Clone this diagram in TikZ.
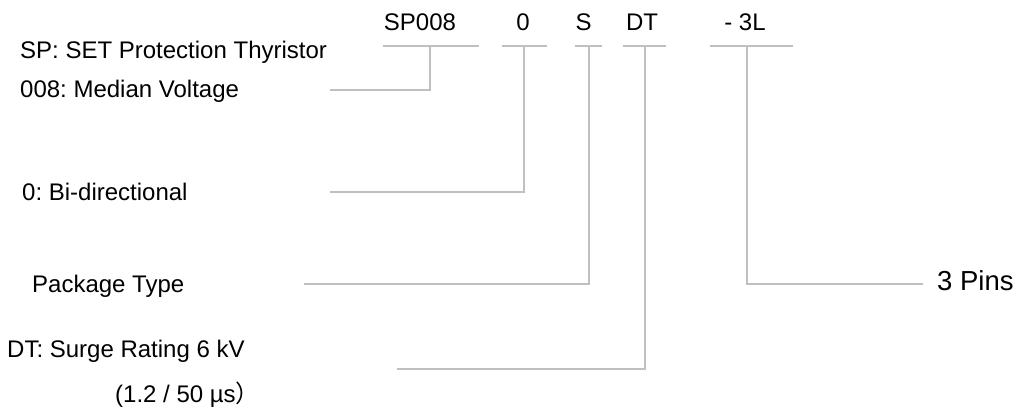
\documentclass[tikz,border=0pt]{standalone}
\usepackage{fontspec}
\setmainfont{Liberation Sans}
\newfontfamily\cjk{Noto Sans CJK SC}
\usepackage{xcolor}
\definecolor{leadgray}{RGB}{192,192,192}
\frenchspacing

\begin{document}
\begin{tikzpicture}[x=1pt,y=-1pt,
  lead/.style={draw=leadgray,line width=1.5pt},
  lbl/.style={anchor=base west,inner sep=0,font=\fontsize{24}{28}\selectfont},
  code/.style={anchor=base,inner sep=0,font=\fontsize{24}{28}\selectfont}]
\useasboundingbox (0,0) rectangle (1016,412);
% part number
\node[code] (sp) at (420,31) {SP008};
\node[code] (dir) at (523,31) {0};
\node[code] (pkg) at (583.5,31) {S};
\node[code] (surge) at (642,31) {DT};
\node[code] (pins) at (745,31) {- 3L};
% meanings
\node[lbl] (spname) at (20,59) {SP: SET Protection Thyristor};
\node[lbl] (volt) at (20,97) {008: Median Voltage};
\node[lbl] (bidir) at (22,200) {0: Bi-directional};
\node[lbl] (pkgtype) at (32,292) {Package Type};
\node[lbl] (rating) at (7,357) {DT: Surge Rating 6 kV};
\node[lbl] (wave) at (115,402) {(1.2 / 50 µs{\cjk ）}};
\node[lbl,font=\fontsize{27.5}{32}\selectfont] (npins) at (937,290) {3 Pins};
% bars under the code
\coordinate (spbar-l) at (383,46);
\coordinate (spbar-r) at (479,46);
\coordinate (dirbar-l) at (502,46);
\coordinate (dirbar-r) at (547,46);
\coordinate (pkgbar-l) at (575,46);
\coordinate (pkgbar-r) at (602,46);
\coordinate (surgebar-l) at (623,46);
\coordinate (surgebar-r) at (666,46);
\coordinate (pinsbar-l) at (710,46);
\coordinate (pinsbar-r) at (793,46);
\draw[lead] (spbar-l) -- (spbar-r);
\draw[lead] (dirbar-l) -- (dirbar-r);
\draw[lead] (pkgbar-l) -- (pkgbar-r);
\draw[lead] (surgebar-l) -- (surgebar-r);
\draw[lead] (pinsbar-l) -- (pinsbar-r);
% leads
\coordinate (spend) at (330,90);
\coordinate (dirend) at (330,192);
\coordinate (pkgend) at (304,284);
\coordinate (surgeend) at (397,369);
\coordinate (pinsend) at (923,284);
\draw[lead] (430,46) |- (spend);
\draw[lead] (524,46) |- (dirend);
\draw[lead] (589,46) |- (pkgend);
\draw[lead] (645,46) |- (surgeend);
\draw[lead] (747,46) |- (pinsend);
\end{tikzpicture}
\end{document}
